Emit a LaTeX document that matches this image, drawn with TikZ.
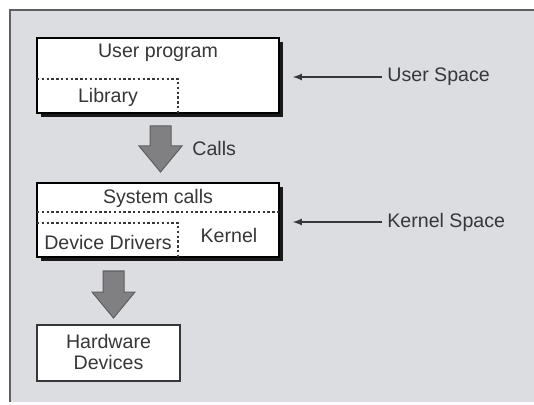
\documentclass[tikz,border=0pt]{standalone}
\usepackage{fontspec}
\setmainfont{Liberation Sans}
\usetikzlibrary{shadows}
\definecolor{panel}{RGB}{220,221,224}
\definecolor{ink}{RGB}{55,55,58}
\definecolor{arrowgray}{RGB}{128,128,130}
\tikzset{
  txt/.style={text=ink,font=\fontsize{9.8}{10.5}\selectfont,inner sep=1pt},
  layer/.style={draw=black,line width=0.75pt,fill=white,drop shadow={shadow xshift=2pt,shadow yshift=-2pt,fill=black!90,opacity=1}},
  divider/.style={draw=ink,dash pattern=on 1.2pt off 1.2pt,line width=0.6pt},
  pointer/.style={->,>=latex,draw=ink,line width=0.6pt},
  bigarrow/.style={fill=arrowgray,draw=ink!80,line width=0.5pt}
}
\begin{document}
\begin{tikzpicture}[x=0.5pt,y=-0.5pt]
		\useasboundingbox (0,0) rectangle (534,405);
		% grey panel
		\fill[panel] (9,10) rectangle (534,402);
		\draw[ink!80,line width=1pt] (9.5,402) -- (9.5,10.5) -- (534,10.5);
		% user space
		\node[layer,minimum width=121pt,minimum height=37.5pt] (UserBox) at (158,75.5) {};
		\node[txt] (UserProg) at (158,53) {User program};
		\node[txt] (Library) at (108,97) {Library};
		\draw[divider] (37,79) -- (178,79) -- (178,113);
		\node[txt,anchor=west] (UserSpace) at (385,77) {User Space};
		\draw[pointer,shorten <=1.5pt,shorten >=6.5pt] (UserSpace.west) -- (UserSpace.west -| UserBox.east);
		% calls
		\filldraw[bigarrow] (150,126) -- (171,126) -- (171,146) -- (182,146) -- (160.5,172) -- (139,146) -- (150,146) -- cycle;
		\node[txt,anchor=west] (Calls) at (190,148) {Calls};
		% kernel space
		\node[layer,minimum width=121pt,minimum height=37pt] (KernelBox) at (158,220) {};
		\node[txt] (SysCalls) at (158,198) {System calls};
		\node[txt] (Drivers) at (108,242) {Device Drivers};
		\node[txt] (Kernel) at (229,235) {Kernel};
		\draw[divider] (37,212) -- (279,212);
		\draw[divider] (37,223) -- (178,223) -- (178,257);
		\node[txt,anchor=west] (KernelSpace) at (385,222) {Kernel Space};
		\draw[pointer,shorten <=1.5pt,shorten >=6.5pt] (KernelSpace.west) -- (KernelSpace.west -| KernelBox.east);
		% hardware
		\filldraw[bigarrow] (103,271) -- (124,271) -- (124,292) -- (135,292) -- (113.5,318) -- (92,292) -- (103,292) -- cycle;
		\node[draw=ink,line width=0.8pt,fill=white,minimum width=71.5pt,minimum height=28pt] (HwBox) at (108.5,353) {};
		\node[txt,align=center] (Hardware) at (108.5,352) {Hardware\\Devices};
	\end{tikzpicture}
\end{document}
